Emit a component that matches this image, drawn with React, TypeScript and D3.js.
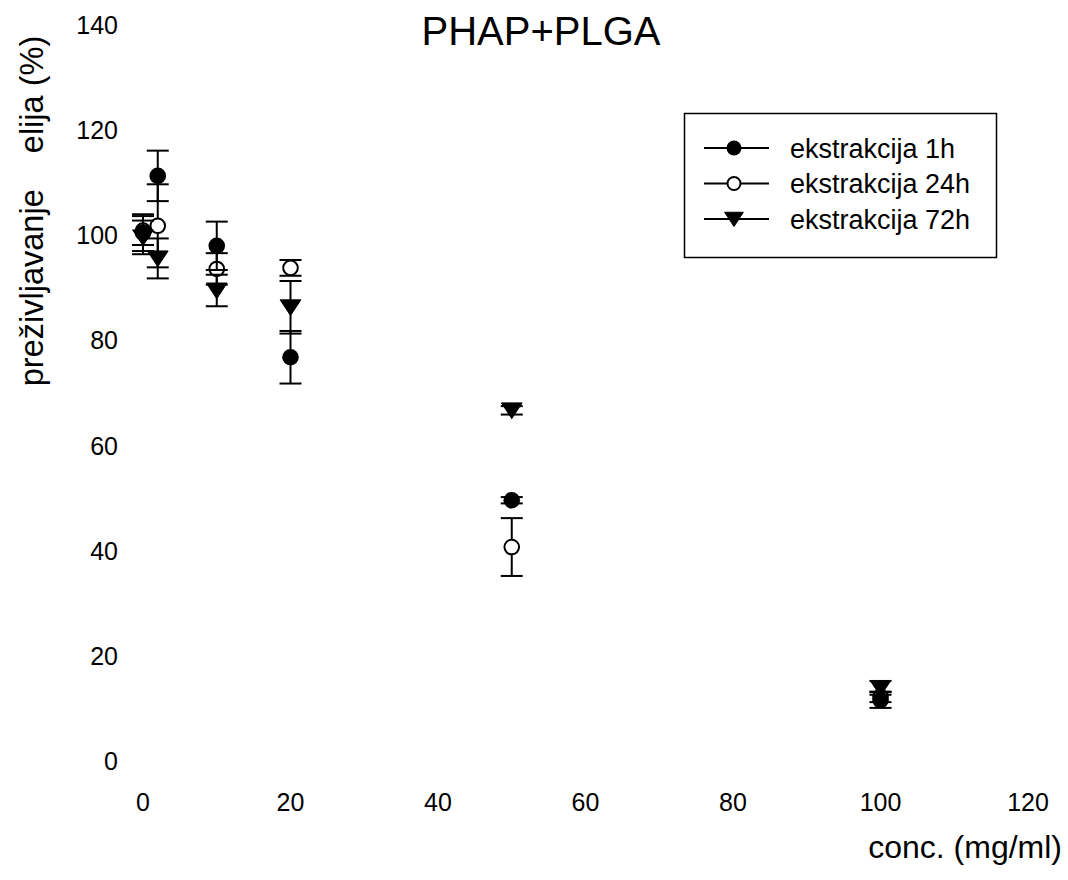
import React from "react";
import * as d3 from "d3";

const concentrations = [0, 2, 10, 20, 50, 100];
const values1h = [100.5, 111.3, 98.0, 76.8, 49.6, 11.6];
const errors1h = [3.5, 4.8, 4.6, 5.0, 0.6, 1.5];
const values24h = [100.9, 101.8, 93.6, 93.8, 40.7, 12.2];
const errors24h = [2.75, 7.9, 3.0, 1.5, 5.5, 1.0];
const values72h = [99.6, 95.6, 89.5, 86.3, 66.7, 13.9];
const errors72h = [3.2, 3.8, 3.0, 5.0, 0.8, 1.3];

const xTicks = [0, 20, 40, 60, 80, 100, 120];
const yTicks = [0, 20, 40, 60, 80, 100, 120, 140];

const seriesNames = ["ekstrakcija 1h", "ekstrakcija 24h", "ekstrakcija 72h"];
const titleText = "PHAP+PLGA";
const xTitle = "conc. (mg/ml)";
const yTitle = "preživljavanje    elija (%)";

const FONT = "'Liberation Sans', Arial, Helvetica, sans-serif";

type Kind = "filled" | "open" | "triangle";

const Symbol = ({ kind, cx, cy, r }: { kind: Kind; cx: number; cy: number; r: number }) => {
  if (kind === "triangle") {
    const w = r * 1.25;
    const p = `M${cx - w},${cy - r * 0.9} L${cx + w},${cy - r * 0.9} L${cx},${cy + r} Z`;
    return <path d={p} fill="#000" stroke="#000" strokeWidth={1} />;
  }
  if (kind === "open") {
    return <circle cx={cx} cy={cy} r={r - 1} fill="#fff" stroke="#000" strokeWidth={2} />;
  }
  return <circle cx={cx} cy={cy} r={r} fill="#000" />;
};

export default function App() {
  const x = d3.scaleLinear().domain([0, 120]).range([143, 1028]);
  const y = d3.scaleLinear().domain([0, 140]).range([761, 25]);

  const series = [
    { kind: "open" as Kind, vals: values24h, errs: errors24h, name: seriesNames[1] },
    { kind: "filled" as Kind, vals: values1h, errs: errors1h, name: seriesNames[0] },
    { kind: "triangle" as Kind, vals: values72h, errs: errors72h, name: seriesNames[2] },
  ];
  const legendOrder: { kind: Kind; name: string }[] = [
    { kind: "filled", name: seriesNames[0] },
    { kind: "open", name: seriesNames[1] },
    { kind: "triangle", name: seriesNames[2] },
  ];
  const cap = 11;

  return (
    <svg
      width={1068}
      height={880}
      style={{ position: "absolute", left: 0, top: 0, background: "#fff" }}
      fontFamily={FONT}
    >
      <rect x={0} y={0} width={1068} height={880} fill="#fff" />
      <text x={541} y={45} fontSize={40} textAnchor="middle" fill="#000">
        {titleText}
      </text>

      {yTicks.map((t) => (
        <text key={"y" + t} x={118} y={y(t) + 9} fontSize={25} textAnchor="end" fill="#000">
          {t}
        </text>
      ))}
      {xTicks.map((t) => (
        <text key={"x" + t} x={x(t)} y={811} fontSize={25} textAnchor="middle" fill="#000">
          {t}
        </text>
      ))}

      <text
        transform={`translate(43,211) rotate(-90)`}
        fontSize={32.5}
        textAnchor="middle"
        fill="#000"
        style={{ whiteSpace: "pre" }}
        xmlSpace="preserve"
      >
        {yTitle}
      </text>
      <text x={1062} y={858} fontSize={32} textAnchor="end" fill="#000">
        {xTitle}
      </text>

      {series.map((s, si) => (
        <g key={"s" + si}>
          {concentrations.map((c, i) => {
            const cx = x(c);
            const top = y(s.vals[i] + s.errs[i]);
            const bot = y(s.vals[i] - s.errs[i]);
            return (
              <g key={"e" + i} stroke="#000" strokeWidth={2}>
                <line x1={cx} x2={cx} y1={top} y2={bot} />
                <line x1={cx - cap} x2={cx + cap} y1={top} y2={top} />
                <line x1={cx - cap} x2={cx + cap} y1={bot} y2={bot} />
              </g>
            );
          })}
          {concentrations.map((c, i) => (
            <Symbol key={"p" + i} kind={s.kind} cx={x(c)} cy={y(s.vals[i])} r={8.3} />
          ))}
        </g>
      ))}

      <rect x={684.5} y={113.5} width={312} height={144} fill="none" stroke="#000" strokeWidth={1.5} />
      {legendOrder.map((l, i) => {
        const ly = 148 + i * 35.5;
        return (
          <g key={"l" + i}>
            <line x1={704} x2={769} y1={ly} y2={ly} stroke="#000" strokeWidth={2} />
            <Symbol kind={l.kind} cx={734} cy={ly} r={7.5} />
            <text x={790} y={ly + 9.5} fontSize={27} fill="#000">
              {l.name}
            </text>
          </g>
        );
      })}
    </svg>
  );
}
